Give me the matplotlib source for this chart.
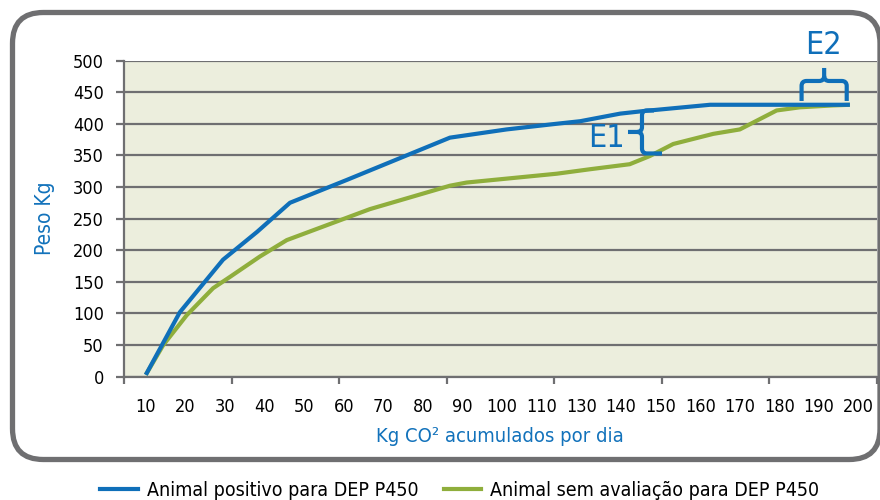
import numpy as np
import matplotlib
matplotlib.use("Agg")
import matplotlib.pyplot as plt
from matplotlib.patches import FancyBboxPatch, PathPatch
from matplotlib.path import Path
from matplotlib.transforms import IdentityTransform
from matplotlib.lines import Line2D

plt.rcParams['font.family'] = ['DejaVu Sans']
plt.rcParams['font.stretch'] = 'condensed'

# ---- data ----
x_labels = [10, 20, 30, 40, 50, 60, 70, 80, 90, 100, 110, 130, 140, 150, 160, 170, 180, 190, 200]
y_ticks = list(range(0, 501, 50))

blue_co2 = [10, 18.6, 29.5, 38.1, 46.4, 60.7, 86.8, 101.1, 117.6, 129.4, 139.8, 145.6, 162.5, 197.8]
blue_peso = [3, 102, 185, 229, 275, 311, 378, 391, 400, 404, 416, 420, 430, 430]

green_co2 = [10, 14.4, 20.3, 27, 31.3, 38.8, 45.6, 66.6, 86.8, 91, 117.6, 132.1, 142.2,
             147.3, 153.2, 163.3, 170, 179.3, 185.2, 193.6, 197.8]
green_peso = [3, 50, 97, 140, 158, 190, 216, 265, 302, 307, 321, 328, 336,
              349, 368, 384, 391, 421, 426, 429, 430]

label_blue = "Animal positivo para DEP P450"
label_green = "Animal sem avaliação para DEP P450"

BLUE = "#0f6fb9"
GREEN = "#8fae3c"
GRAY = "#6f6f71"
BG = "#eceedd"
TXTBLUE = "#1272bb"

W, H = 880, 500
fig = plt.figure(figsize=(W / 100, H / 100), dpi=100)
fig.patch.set_facecolor("white")

frame = FancyBboxPatch((12.5 / W, 1 - 459.5 / H), (880 - 12.5) / W, (459.5 - 12.5) / H,
                       boxstyle="round,pad=0,rounding_size=0.035",
                       transform=fig.transFigure, facecolor="none", edgecolor=GRAY,
                       linewidth=3.8, mutation_aspect=W / H, zorder=0)
fig.add_artist(frame)

L, R, T, B = 124, 876.7, 60.5, 376.7
ax = fig.add_axes([L / W, 1 - B / H, (R - L) / W, (B - T) / H])
ax.set_facecolor(BG)

idx = np.arange(len(x_labels))
def pos(v):
    return np.interp(v, x_labels, idx)

lab_px0, lab_step = 145.8, 39.6
x0 = (L - lab_px0) / lab_step
x1 = (R - lab_px0) / lab_step
ax.set_xlim(x0, x1)
ax.set_ylim(0, 500)

ax.plot(pos(blue_co2), blue_peso, color=BLUE, lw=3.0, solid_capstyle="butt", zorder=4)
ax.plot(pos(green_co2), green_peso, color=GREEN, lw=3.0, solid_capstyle="butt", zorder=3)

ax.set_yticks(y_ticks)
ax.set_yticklabels([str(v) for v in y_ticks])
ax.yaxis.grid(True, color=GRAY, lw=1.6)
ax.set_axisbelow(True)
ax.tick_params(axis="y", length=6, width=1.6, color=GRAY, pad=8.5, labelsize=13)

ax.set_xticks(idx)
ax.set_xticklabels([str(v) for v in x_labels])
ax.set_xticks(np.linspace(x0, x1, 8), minor=True)
ax.tick_params(axis="x", which="major", length=0, pad=15, labelsize=13)
ax.tick_params(axis="x", which="minor", length=5, width=1.6, color=GRAY)

for s in ("top", "right"):
    ax.spines[s].set_visible(False)
for s in ("left", "bottom"):
    ax.spines[s].set_color(GRAY)
    ax.spines[s].set_linewidth(1.6)

ax.set_ylabel("Peso Kg", color=TXTBLUE, fontsize=15, labelpad=13)
ax.set_xlabel("Kg CO² acumulados por dia", color=TXTBLUE, fontsize=14.5, labelpad=8)

fig.canvas.draw()

def brace_v(xd, ytop_d, ybot_d, tip=14, arm_top=12, arm_bot=20, r=5):
    x, yt = ax.transData.transform((xd, ytop_d))
    _, yb = ax.transData.transform((xd, ybot_d))
    ym = (yt + yb) / 2
    verts = [(x + arm_top, yt), (x + r, yt), (x, yt), (x, yt - r),
             (x, ym + r), (x, ym), (x - r, ym), (x - tip, ym),
             (x - r, ym), (x, ym), (x, ym - r),
             (x, yb + r), (x, yb), (x + r, yb), (x + arm_bot, yb)]
    codes = [Path.MOVETO, Path.LINETO, Path.CURVE3, Path.CURVE3,
             Path.LINETO, Path.CURVE3, Path.CURVE3, Path.LINETO,
             Path.MOVETO, Path.CURVE3, Path.CURVE3,
             Path.LINETO, Path.CURVE3, Path.CURVE3, Path.LINETO]
    p = PathPatch(Path(verts, codes), transform=IdentityTransform(), fill=False,
                  edgecolor=BLUE, lw=3.0, capstyle="butt", joinstyle="round", zorder=6)
    fig.add_artist(p)

def brace_h(xl_d, xr_d, ybot_d, height=20, tip=13, r=5):
    xl, yb = ax.transData.transform((xl_d, ybot_d))
    xr, _ = ax.transData.transform((xr_d, ybot_d))
    yh = yb + height
    xm = (xl + xr) / 2
    verts = [(xl, yb), (xl, yh - r), (xl, yh), (xl + r, yh),
             (xm - r, yh), (xm, yh), (xm, yh + r), (xm, yh + tip),
             (xm, yh + r), (xm, yh), (xm + r, yh),
             (xr - r, yh), (xr, yh), (xr, yh - r), (xr, yb)]
    codes = [Path.MOVETO, Path.LINETO, Path.CURVE3, Path.CURVE3,
             Path.LINETO, Path.CURVE3, Path.CURVE3, Path.LINETO,
             Path.MOVETO, Path.CURVE3, Path.CURVE3,
             Path.LINETO, Path.CURVE3, Path.CURVE3, Path.LINETO]
    p = PathPatch(Path(verts, codes), transform=IdentityTransform(), fill=False,
                  edgecolor=BLUE, lw=3.0, capstyle="butt", joinstyle="round", zorder=6)
    fig.add_artist(p)

brace_v(pos(145.3), 421, 353)
brace_h(pos(185.6), pos(197.0), 436)

ax.text(pos(136.3), 376, "E1", color=BLUE, fontsize=23, ha="center", va="center", zorder=6)
ax.text(pos(191.0), 523, "E2", color=BLUE, fontsize=23, ha="center", va="center",
        clip_on=False, zorder=6)

handles = [Line2D([], [], color=BLUE, lw=3.0), Line2D([], [], color=GREEN, lw=3.0)]
fig.legend(handles, [label_blue, label_green], loc="center left",
           bbox_to_anchor=(100 / W, 1 - 490 / H), ncol=2, frameon=False,
           fontsize=14, handlelength=1.95, handletextpad=0.45, columnspacing=1.3,
           borderpad=0, borderaxespad=0)

fig.savefig("out.png", dpi=100)
